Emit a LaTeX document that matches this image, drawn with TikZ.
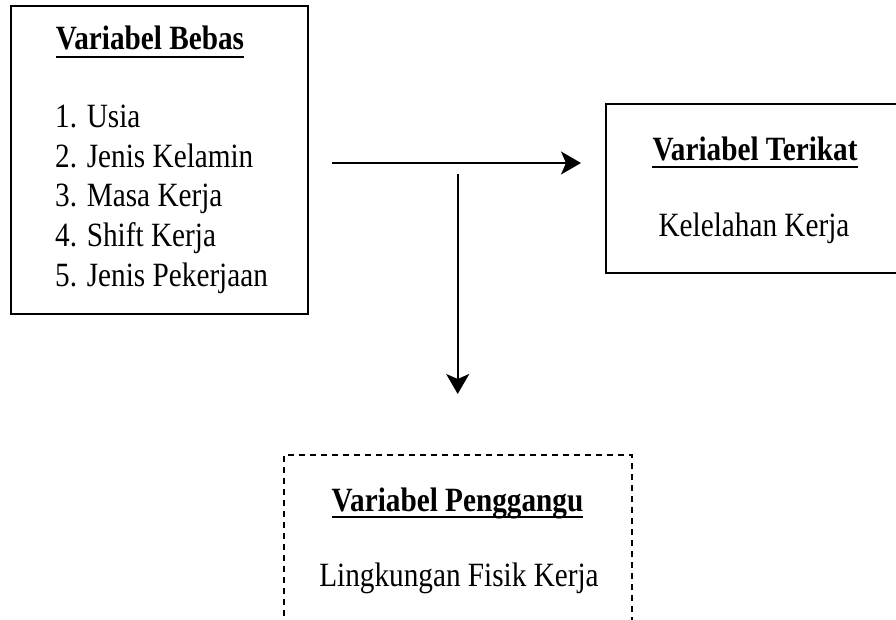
\documentclass[tikz,border=0pt]{standalone}
\usepackage{fontspec}
\setmainfont{Liberation Serif}
\usetikzlibrary{arrows.meta}
\newcommand{\nar}[1]{\scalebox{0.86}[1]{#1}}
\begin{document}
\begin{tikzpicture}[x=1pt,y=-1pt,
  box/.style={draw=black, line width=2pt, inner sep=0pt},
  dbox/.style={draw=black, line width=1.6pt, dash pattern=on 6pt off 5pt, inner sep=0pt},
  txt/.style={inner sep=0pt, font=\fontsize{34}{40}\selectfont},
  ttl/.style={inner sep=0pt, font=\fontsize{34}{40}\selectfont\bfseries},
  arr/.style={line width=2pt, -{Stealth[length=20pt,width=23pt,inset=5pt]}},
  uline/.style={line width=1.8pt}]
\clip (0,0) rectangle (896,620);
\fill[white] (0,0) rectangle (896,620);
% boxes
\node[box, minimum width=297pt, minimum height=308pt] (bebas) at (159.5,160) {};
\node[box, minimum width=324pt, minimum height=168.7pt] (terikat) at (768,188.35) {};
\node[dbox, minimum width=348pt, minimum height=205pt] (ganggu) at (458,557.5) {};
% left box texts
\node[ttl, anchor=base] (t1) at (150,50) {\nar{Variabel Bebas}};
\draw[uline] ([yshift=-7pt]t1.base west) -- ([yshift=-7pt]t1.base east);
\node[txt, anchor=base west] (i1) at (55,128) {\nar{1. Usia}};
\node[txt, anchor=base west] (i2) at (55,167.5) {\nar{2. Jenis Kelamin}};
\node[txt, anchor=base west] (i3) at (55,207) {\nar{3. Masa Kerja}};
\node[txt, anchor=base west] (i4) at (55,246.5) {\nar{4. Shift Kerja}};
\node[txt, anchor=base west] (i5) at (55,286) {\nar{5. Jenis Pekerjaan}};
% right box texts
\node[ttl, anchor=base] (t2) at (755,161) {\nar{Variabel Terikat}};
\draw[uline] ([yshift=-6pt]t2.base west) -- ([yshift=-6pt]t2.base east);
\node[txt, anchor=base] (k1) at (754,236.7) {\nar{Kelelahan Kerja}};
% dashed box texts
\node[ttl, anchor=base] (t3) at (457.5,511.7) {\nar{Variabel Penggangu}};
\draw[uline] ([yshift=-5pt]t3.base west) -- ([yshift=-5pt]t3.base east);
\node[txt, anchor=base] (l1) at (459,586.7) {\nar{Lingkungan Fisik Kerja}};
% arrows
\coordinate (h1) at (332,163);
\coordinate (h2) at (581,163);
\coordinate (v1) at (457.7,174);
\coordinate (v2) at (457.7,394);
\draw[arr] (h1) -- (h2);
\draw[arr] (v1) -- (v2);
\end{tikzpicture}
\end{document}
